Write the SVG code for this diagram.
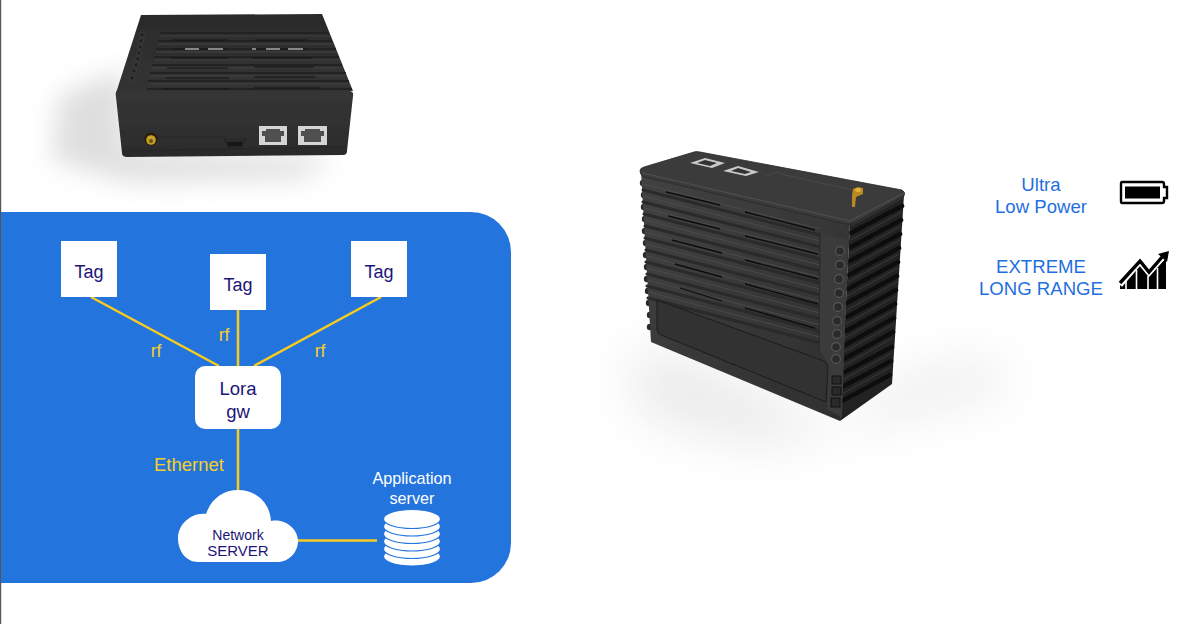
<svg xmlns="http://www.w3.org/2000/svg" width="1200" height="624" viewBox="0 0 1200 624">
<style>
text{font-family:"Liberation Sans",Arial,sans-serif;text-anchor:middle}
.navy{fill:#1c1478}
.yel{fill:#f9cf25;font-size:17.5px}
.wire{stroke:#f9cb1f;stroke-width:2.5;fill:none}
.blue{fill:#1f6fe0;font-size:18.6px}
</style>
<defs>
<filter id="b12" x="-50%" y="-50%" width="200%" height="200%"><feGaussianBlur stdDeviation="13"/></filter>
<filter id="b30" x="-50%" y="-50%" width="200%" height="200%"><feGaussianBlur stdDeviation="26"/></filter>
<filter id="soft" x="-5%" y="-5%" width="110%" height="110%"><feGaussianBlur stdDeviation=".5"/></filter>
<linearGradient id="frontG" x1="0" y1="0" x2="0" y2="1"><stop offset="0" stop-color="#353535"/><stop offset="1" stop-color="#2b2b2b"/></linearGradient>
<linearGradient id="topG" x1="0" y1="0" x2="0" y2="1"><stop offset="0" stop-color="#2b2b2b"/><stop offset="1" stop-color="#333"/></linearGradient>
<linearGradient id="faceG" x1="0" y1="0" x2="1" y2="1"><stop offset="0" stop-color="#424242"/><stop offset="1" stop-color="#2e2e2e"/></linearGradient>
</defs>
<rect width="1200" height="624" fill="#fff"/>
<rect x="0" y="0" width="1.2" height="624" fill="#555"/>

<g id="device-top">
<path d="M60 95L125 70L125 150L335 158L300 178L130 182L52 160Z" fill="#bdbdbd" opacity=".5" filter="url(#b12)"/>
<g filter="url(#soft)">
<path d="M141 15L322 14L353 91L116 93Z" fill="url(#topG)"/>
<g fill="none" stroke="#444" stroke-width=".9"><path d="M160 36L330 36M158 44L333 44M156 52L337 52M154 60L340 60M152 68L343 68M150 76L347 76M148 84L350 84"/></g>
<g fill="none" stroke="#1e1e1e" stroke-width="1.4"><path d="M160 33L329 33M158 41L332 41M156 49L336 49M154 57L339 57M152 65L342 65M150 73L346 73M148 81L349 81M147 89L352 89"/></g>
<g fill="none" stroke="#141414" stroke-width="1"><path d="M171 40L228 40M255 40L307 40M172 49L228 49M252 49L308 49M170 58L228 58M252 58L312 58M167 68L228 68M254 67L314 67M166 78L229 78M254 77L315 77M163 89L229 89M254 88L320 88"/></g>
<path d="M185 49L199 49M208 49L223 49M252 49L256 49M266 49L280 49M288 49L303 49" stroke="#a9a9a9" stroke-width="1.6"/>
<g fill="#222" stroke="#4d4d4d" stroke-width=".6"><circle cx="142" cy="35" r="2.4"/><circle cx="141" cy="41" r="2.4"/><circle cx="140" cy="47" r="2.4"/><circle cx="139" cy="53" r="2.4"/><circle cx="138" cy="59" r="2.4"/><circle cx="136" cy="65" r="2.4"/><circle cx="134" cy="71" r="2.4"/><circle cx="132" cy="78" r="2.4"/></g>
<path d="M117 91Q115 92 116 97L122 153Q122 157 127 157L343 155Q347 155 347 151L353 96Q354 92 350 91Z" fill="url(#frontG)"/>
<path d="M122 151L346 147" stroke="#252525" stroke-width=".8"/>
<path d="M158 137H223L228 147" fill="none" stroke="#222" stroke-width=".7"/>
<path d="M224 138L229 147H241L246 138" fill="#2c2c2c" stroke="#1a1a1a" stroke-width=".7"/>
<rect x="228" y="142" width="14" height="4" fill="#161616"/>
<rect x="259" y="126" width="28" height="19" fill="#d4d5d5"/>
<path d="M262 136V131H266V129H280V131H284V136H281V142H265V136Z" fill="#4f4f4f"/>
<rect x="298" y="126" width="29" height="19" fill="#d4d5d5"/>
<path d="M301 136V131H305V129H320V131H324V136H321V142H304V136Z" fill="#4f4f4f"/>
<circle cx="151" cy="139" r="6.500" fill="#2a1f08"/>
<circle cx="151" cy="140" r="4.800" fill="#c7a026"/>
<circle cx="151" cy="141" r="2" fill="#6b5212"/>
</g>
</g>

<g id="device-right">
<path d="M655 345L625 375L650 420L760 445L880 420L1020 385L980 360L885 385L840 425Z" fill="#d6d6d6" opacity=".5" filter="url(#b30)"/>
<g filter="url(#soft)">
<path d="M850 222L904 195L892 384L840 421Z" fill="#222"/>
<g fill="none" stroke="#101010" stroke-width="4.600" stroke-linecap="round">
<path d="M851 233L902 206M851 247L901 220M850 261L900 234M849 275L899 248M848 289L898 262M847 303L897 276M847 317L896 290M846 331L895 304M845 345L894 318M844 359L893 332M843 373L892 347M842 387L891 361M842 401L890 375"/>
</g>
<g fill="none" stroke="#3a3a3a" stroke-width="1">
<path d="M851 226L903 198M851 240L902 212M850 254L901 226M849 268L900 240M848 282L899 254M847 296L898 268M847 310L897 282M846 324L896 296M845 338L895 310M844 352L894 324M843 366L893 338M842 380L892 353M842 394L891 367"/>
</g>
<g fill="#2c2c2c"><circle cx="643" cy="183" r="3.200"/><circle cx="644" cy="195" r="3.200"/><circle cx="644" cy="207" r="3.200"/><circle cx="645" cy="219" r="3.200"/><circle cx="645" cy="231" r="3.200"/><circle cx="646" cy="243" r="3.200"/><circle cx="646" cy="255" r="3.200"/><circle cx="647" cy="267" r="3.200"/><circle cx="647" cy="279" r="3.200"/><circle cx="648" cy="291" r="3.200"/><circle cx="649" cy="303" r="3.200"/><circle cx="650" cy="315" r="3.200"/><circle cx="650" cy="327" r="3.200"/></g>
<path d="M641 172L850 224L840 421L651 342Z" fill="url(#faceG)"/>
<g fill="none" stroke="#2a2a2a" stroke-width="3" stroke-linecap="round">
<path d="M643 190L820 235M643 202L820 247M644 214L820 259M645 226L820 271M645 238L820 283M646 250L820 295M646 262L820 307M647 274L820 319M647 286L820 331M648 298L820 343"/>
</g>
<g fill="none" stroke="#4e4e4e" stroke-width=".8">
<path d="M643 184L820 229M643 196L820 241M644 208L820 253M645 220L820 265M645 232L820 277M646 244L820 289M646 256L820 301M647 268L820 313M647 280L820 325M648 292L820 337"/>
</g>
<path d="M666 192L720 205M745 212L815 230M668 216L720 229M745 236L818 254M672 240L722 253M745 260L818 279M675 264L722 277M745 284L818 304M680 288L722 301M745 308L815 328" stroke="#0c0c0c" stroke-width="1.300" fill="none"/>
<path d="M820 233L848 240L842 417L827 410L828 365L820 351Z" fill="#3a3a3a"/>
<path d="M820 233L819 351" stroke="#2a2a2a" stroke-width="1"/>
<path d="M657 300L824 361Q828 363 828 367L826 402L661 335Q657 333 657 329Z" fill="#303030" stroke="#1e1e1e" stroke-width="1"/>
<g fill="#2b2b2b" stroke="#585858" stroke-width="1.100"><circle cx="840" cy="251" r="4.400"/><circle cx="840" cy="265" r="4.400"/><circle cx="839" cy="279" r="4.400"/><circle cx="839" cy="293" r="4.400"/><circle cx="838" cy="307" r="4.400"/><circle cx="837" cy="321" r="4.400"/><circle cx="837" cy="334" r="4.400"/><circle cx="836" cy="347" r="4.400"/><circle cx="836" cy="359" r="4.400"/></g>
<g fill="#2a2a2a" stroke="#151515" stroke-width="1"><rect x="832" y="376" width="9" height="8"/><rect x="832" y="387" width="9" height="8"/><rect x="831" y="398" width="9" height="9"/></g>
<path d="M640 171Q640 168 644 167L694 152Q696 151 700 152L902 190Q906 192 904 196L856 222Q851 225 846 224L644 177Q640 175 640 171Z" fill="#3a3a3a" stroke="#2a2a2a" stroke-width=".8"/>
<path d="M642 173L850 221L904 193" fill="none" stroke="#5c5c5c" stroke-width=".7"/>
<path d="M690 163L705 158L725 163L712 168Z" fill="#c9caca"/><path d="M697 163L705 160L717 163L710 166Z" fill="#333"/>
<path d="M723 171L738 166L759 172L746 176Z" fill="#c9caca"/><path d="M731 171L738 168L751 172L745 174Z" fill="#333"/>
<path d="M766 176L777 172L785 175L852 190" fill="none" stroke="#505050" stroke-width=".7"/>
<path d="M852 195L853 189L858 187L863 188L863 194L856 197L855 207L852 207Z" fill="#b98a22"/>
<ellipse cx="858" cy="190" rx="3" ry="2" fill="#e0ae38"/>
</g>
</g>

<g id="panel"><path d="M1 212H471A40 40 0 0 1 511 252V543A40 40 0 0 1 471 583H1Z" fill="#2474de"/></g>

<g id="connectors">
<path class="wire" d="M91 297L219 366M238 310V366M381 297L254 366M238 428V491M297 540.500H377"/>
</g>

<g id="tag-1"><rect x="61" y="241" width="56" height="56" fill="#fff"/><text class="navy" x="89" y="278" font-size="18">Tag</text></g>
<g id="tag-2"><rect x="210" y="254" width="56" height="56" fill="#fff"/><text class="navy" x="238" y="291" font-size="18">Tag</text></g>
<g id="tag-3"><rect x="351" y="241" width="56" height="56" fill="#fff"/><text class="navy" x="379" y="278" font-size="18">Tag</text></g>
<g id="lora-gw"><rect x="195" y="366" width="86" height="63" rx="10" fill="#fff"/><text class="navy" x="238" y="395" font-size="18.500">Lora</text><text class="navy" x="238" y="418" font-size="18.500">gw</text></g>

<g id="labels">
<text class="yel" x="156" y="357">rf</text>
<text class="yel" x="224" y="341">rf</text>
<text class="yel" x="320" y="357">rf</text>
<text class="yel" x="189" y="471" style="font-size:18.500px">Ethernet</text>
</g>

<g id="network-server">
<path d="M198 562C186 562 178 551 178 538C178 524 192 512 206 514C211 499 223 490 238 490C256 490 270 503 271 521C285 518 298 529 298 541C298 553 288 562 278 562Z" fill="#fff"/>
<text class="navy" x="238" y="540" font-size="14">Network</text>
<text class="navy" x="238" y="556" font-size="15">SERVER</text>
</g>

<g id="application-server">
<text fill="#fff" x="412" y="484" font-size="16.200">Application</text>
<text fill="#fff" x="412" y="504" font-size="16.200">server</text>
<g fill="#fff" stroke="#2474de" stroke-width="1.200">
<ellipse cx="412" cy="556.500" rx="28.500" ry="9.500"/>
<ellipse cx="412" cy="549" rx="28.500" ry="9.500"/>
<ellipse cx="412" cy="541.500" rx="28.500" ry="9.500"/>
<ellipse cx="412" cy="534" rx="28.500" ry="9.500"/>
<ellipse cx="412" cy="526.500" rx="28.500" ry="9.500"/>
<ellipse cx="412" cy="519" rx="28.500" ry="9.500"/>
</g>
</g>

<g id="ultra-low-power">
<text class="blue" x="1041" y="191">Ultra</text>
<text class="blue" x="1041" y="213">Low Power</text>
<path d="M1122 182H1162Q1164 182 1164 184V187H1167V198H1164V201Q1164 203 1162 203H1122Q1121 203 1121 201V184Q1121 182 1122 182Z" fill="#fff" stroke="#000" stroke-width="2.400"/>
<rect x="1125" y="186.500" width="35" height="12" fill="#000"/>
</g>

<g id="extreme-long-range">
<text class="blue" x="1041" y="273">EXTREME</text>
<text class="blue" x="1041" y="295">LONG RANGE</text>
<path d="M1120 289V285L1140 265L1149 276L1166 258V289Z" fill="#000"/>
<path d="M1126 289V280M1136.500 289V270M1148 289V276M1157.500 289V268" stroke="#fff" stroke-width="1.600"/>
<path d="M1120 285L1140 262L1149 273L1164 256" fill="none" stroke="#fff" stroke-width="5.500"/>
<path d="M1120 283L1140 261L1149 272L1163 256" fill="none" stroke="#000" stroke-width="3.400"/>
<path d="M1158 254L1169 251L1167 262Z" fill="#000"/>
</g>
</svg>
